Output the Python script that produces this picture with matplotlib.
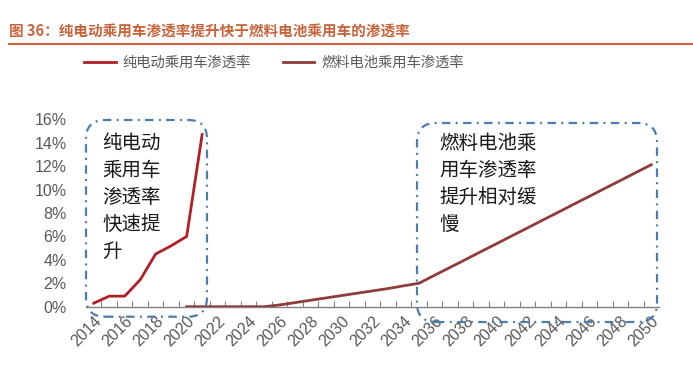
import matplotlib
matplotlib.use("Agg")
import matplotlib.pyplot as plt
from matplotlib.patches import FancyBboxPatch
from matplotlib.lines import Line2D
import numpy as np

plt.rcParams['font.family'] = ['Noto Sans CJK SC', 'DejaVu Sans']

# ---- data ----
bev_years = [2014, 2015, 2016, 2017, 2018, 2019, 2020, 2021]
bev_share = [0.003, 0.009, 0.009, 0.023, 0.045, 0.052, 0.060, 0.147]

fcev_years = list(range(2020, 2051))
fcev_share = [0.0, 0.0, 0.0, 0.0, 0.0, 0.0,
              0.0015, 0.0035, 0.0055, 0.0075, 0.0095, 0.0115, 0.0135, 0.0155, 0.0178, 0.020,
              0.0268, 0.0335, 0.0402, 0.0470, 0.0537, 0.0605, 0.0672, 0.0740, 0.0807,
              0.0875, 0.0942, 0.1010, 0.1077, 0.1145, 0.1212]

year_labels = list(range(2014, 2051, 2))
y_ticks = [0, 0.02, 0.04, 0.06, 0.08, 0.10, 0.12, 0.14, 0.16]

title = "图 36：纯电动乘用车渗透率提升快于燃料电池乘用车的渗透率"
bev_name = "纯电动乘用车渗透率"
fcev_name = "燃料电池乘用车渗透率"
note1 = "纯电动\n乘用车\n渗透率\n快速提\n升"
note2 = "燃料电池乘\n用车渗透率\n提升相对缓\n慢"

W, H = 693, 366
fig = plt.figure(figsize=(W / 100, H / 100), dpi=100)

def fx(px):
    return px / W

def fy(py):
    return 1 - py / H

ax = fig.add_axes([fx(86), fy(306.7), fx(659) - fx(86), fy(119.3) - fy(306.7)])

bev_color = "#B01F24"
fcev_color = "#8E3B3B"
grey = "#595959"

ax.plot(bev_years, bev_share, color=bev_color, lw=2.0, label=bev_name, zorder=3)
ax.plot(fcev_years, fcev_share, color=fcev_color, lw=2.0, label=fcev_name, zorder=3)

ax.set_xlim(2013.5, 2050.5)
ax.set_ylim(0, 0.16)

for s in ['top', 'right', 'left']:
    ax.spines[s].set_visible(False)
ax.spines['bottom'].set_color("#808080")
ax.spines['bottom'].set_linewidth(1.0)

ax.set_xticks(year_labels)
ax.set_xticklabels([str(y) for y in year_labels], rotation=45, ha='right', va='top',
                   rotation_mode='anchor', family='Liberation Sans', fontsize=11.5, color=grey)
ax.set_xticks(np.arange(2014.5, 2050.0, 1.0), minor=True)
ax.tick_params(axis='x', which='major', length=0, pad=5)
ax.tick_params(axis='x', which='minor', length=4, direction='in', color="#808080", width=0.8)

ax.set_yticks(y_ticks)
ax.set_yticklabels([f"{int(round(v * 100))}%" for v in y_ticks], family='Liberation Sans',
                   fontsize=11.5, color=grey)
ax.tick_params(axis='y', length=0, pad=14)

# title and rule
fig.text(fx(9), fy(31), title, fontsize=10.5, fontweight='bold', color="#C8643B",
         ha='left', va='center')
fig.add_artist(Line2D([fx(9), fx(693)], [fy(44), fy(44)], color="#C8643B", lw=1.5))

# legend
leg = fig.legend(loc='center', bbox_to_anchor=(fx(274), fy(63)), ncol=2, frameon=False,
                 fontsize=10.3, handlelength=2.2, handletextpad=0.5, columnspacing=2.2)
for t in leg.get_texts():
    t.set_color(grey)

# annotation boxes (pixel -> inches)
def box(x0, y0, x1, y1):
    p = FancyBboxPatch((x0 / 100, (H - y1) / 100), (x1 - x0) / 100, (y1 - y0) / 100,
                       boxstyle="round,pad=0,rounding_size=0.19",
                       transform=fig.dpi_scale_trans, fill=False,
                       edgecolor="#4A7DB0", lw=1.6, linestyle=(0, (3.8, 2.4, 0.9, 2.4)),
                       clip_on=False, zorder=5)
    fig.add_artist(p)

box(86, 120, 207, 316.7)
box(417, 123, 657, 322)

fig.text(fx(102), fy(133), note1, fontsize=14, color="#1a1a1a", ha='left', va='top',
         linespacing=1.38)
fig.text(fx(439), fy(133), note2, fontsize=14, color="#1a1a1a", ha='left', va='top',
         linespacing=1.38)

fig.savefig("out.png", dpi=100)
